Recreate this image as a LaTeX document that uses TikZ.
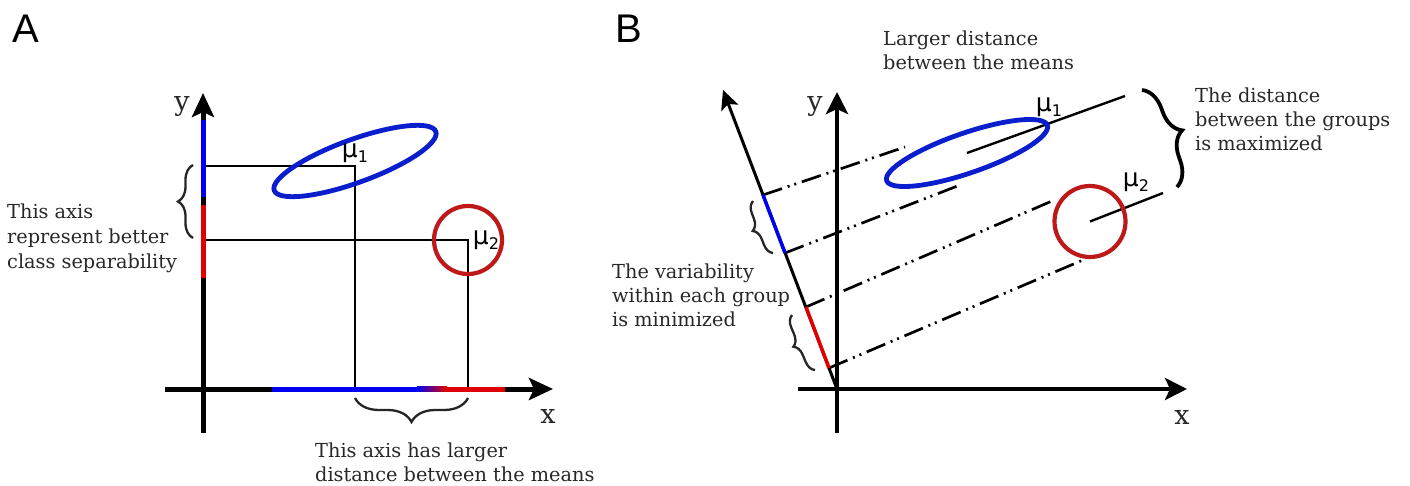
\documentclass[tikz,border=0pt]{standalone}
\usepackage{fontspec}
\setmainfont{DejaVu Serif}
\newfontfamily\labsans{DejaVu Sans}
\newfontfamily\panelfont{Liberation Sans}
\usetikzlibrary{arrows.meta,decorations.pathreplacing,calc}
\definecolor{axblue}{RGB}{0,0,240}
\definecolor{axred}{RGB}{225,0,0}
\definecolor{elblue}{RGB}{10,30,205}
\definecolor{cired}{RGB}{190,25,25}
\definecolor{txt}{RGB}{40,40,40}
\begin{document}
\begin{tikzpicture}[x=1pt,y=-1pt,
 ax/.style={line width=5pt,-{Stealth[length=24pt,width=22pt,inset=5pt]}},
 axb/.style={line width=4.6pt,-{Stealth[length=22pt,width=22pt,inset=5pt]}},
 obl/.style={line width=3pt,-{Stealth[length=19pt,width=18pt,inset=4pt]}},
 guide/.style={line width=2.4pt},
 proj/.style={line width=2.7pt,dash pattern=on 20pt off 6pt on 2pt off 5pt on 2pt off 6pt},
 brc/.style={decorate,decoration={brace,amplitude=#1},line width=2.3pt,black!85},
 lbl/.style={inner sep=0,text=txt,font=\fontsize{19.3}{24}\selectfont,align=left,anchor=north west},
 mu/.style={inner sep=0,font=\labsans\fontsize{25}{25}\selectfont},
 axl/.style={inner sep=0,text=black!85,font=\fontsize{27}{27}\selectfont},
 panel/.style={inner sep=0,anchor=base,font=\panelfont\fontsize{40}{40}\selectfont}]
\fill[white] (0,0) rectangle (1410,486);
\useasboundingbox (0,0) rectangle (1410,486);

% ---------------- Panel A ----------------
\node[panel] (labA) at (26,43) {A};
\coordinate (Ay0) at (203,433);
\coordinate (Ay1) at (203,93);
\coordinate (Ax0) at (165,389);
\coordinate (Ax1) at (553,389);
\coordinate (Ah1) at (203,166);
\coordinate (Af1) at (355,389);
\coordinate (Ah2) at (203,240);
\coordinate (Af2) at (468,389);
\coordinate (Ae) at (355,161);
\coordinate (Ac) at (468,240);

\draw[guide] (Ah1) -| (Af1);
\draw[guide] (Ah2) -| (Af2);
\draw[ax] (Ay0) -- (Ay1);
\draw[ax] (Ax0) -- (Ax1);
\draw[line width=5pt,axblue] (203,120) -- (203,197);
\draw[line width=5pt,axred] (203,205) -- (203,278);
\fill[axblue] (272,386.5) rectangle (417,391.5);
\shade[left color=axblue,right color=axred] (417,386.5) rectangle (447,391.5);
\fill[axred] (447,386.5) rectangle (505,391.5);

\draw[elblue,line width=4.8pt,rotate around={20:(Ae)}] (Ae) ellipse [x radius=86,y radius=21.5];
\draw[cired,line width=4.2pt] (Ac) circle [radius=34];

\node[mu] (muA1) at (355,153) {μ\raisebox{-5pt}{\fontsize{16}{16}\selectfont 1}};
\node[mu] (muA2) at (486,240) {μ\raisebox{-5pt}{\fontsize{16}{16}\selectfont 2}};
\node[axl] (yA) at (182,106) {y};
\node[axl] (xA) at (548,416.5) {x};

\draw[brc=15] (193,238) -- (193,165);
\draw[brc=24] (468,398) -- (355,398);

\node[lbl,font=\fontsize{19.3}{25}\selectfont] (tA1) at (7,203.6) {This axis\\represent better\\class separability};
\node[lbl] (tA2) at (315,442.6) {This axis has larger\\distance between the means};

% ---------------- Panel B ----------------
\node[panel] (labB) at (629,43) {B};
\coordinate (O) at (837,389);
\coordinate (By0) at (837,433);
\coordinate (By1) at (837,92);
\coordinate (Bx0) at (798,389);
\coordinate (Bx1) at (1187,389);
\coordinate (Bo1) at (723,90);
\coordinate (P1) at (763,195);
\coordinate (P2) at (785,253);
\coordinate (P3) at (806,307);
\coordinate (P4) at (829,368);
\coordinate (Q1) at (905,147);
\coordinate (Q2) at (960,185);
\coordinate (Q3) at (1052,201);
\coordinate (Q4) at (1083,260);
\coordinate (Be) at (967,153);
\coordinate (Bc) at (1090,221.5);
\coordinate (M1) at (1125,96);
\coordinate (M2) at (1163,193);

\draw[proj] (P1) -- (Q1);
\draw[proj] (P2) -- (Q2);
\draw[proj] (P3) -- (Q3);
\draw[proj] (P4) -- (Q4);
\draw[guide] (Be) -- (M1);
\draw[guide] (Bc) -- (M2);

\draw[axb] (By0) -- (By1);
\draw[axb] (Bx0) -- (Bx1);
\draw[obl] (O) -- (Bo1);
\draw[line width=3.5pt,axblue] (P1) -- (P2);
\draw[line width=3.5pt,axred] (P3) -- (P4);

\draw[elblue,line width=4.8pt,rotate around={19:(Be)}] (Be) ellipse [x radius=85,y radius=20];
\draw[cired,line width=4.2pt] (Bc) circle [radius=35.5];

\node[mu] (muB1) at (1049,107) {μ\raisebox{-5pt}{\fontsize{16}{16}\selectfont 1}};
\node[mu] (muB2) at (1136,182) {μ\raisebox{-5pt}{\fontsize{16}{16}\selectfont 2}};
\node[axl] (yB) at (815,106) {y};
\node[axl] (xB) at (1182,417.5) {x};

\draw[brc=11] (773,253) -- (753,201);
\draw[brc=11] (815,370) -- (792,315);
\draw[brc=24,line width=3.8pt,black] (1142,90) -- (1177,187);

\node[lbl] (tB1) at (883,30.6) {Larger distance\\between the means};
\node[lbl] (tB2) at (1195,87.6) {The distance\\between the groups\\is maximized};
\node[lbl] (tB3) at (612,263.6) {The variability\\within each group\\is minimized};
\end{tikzpicture}
\end{document}
